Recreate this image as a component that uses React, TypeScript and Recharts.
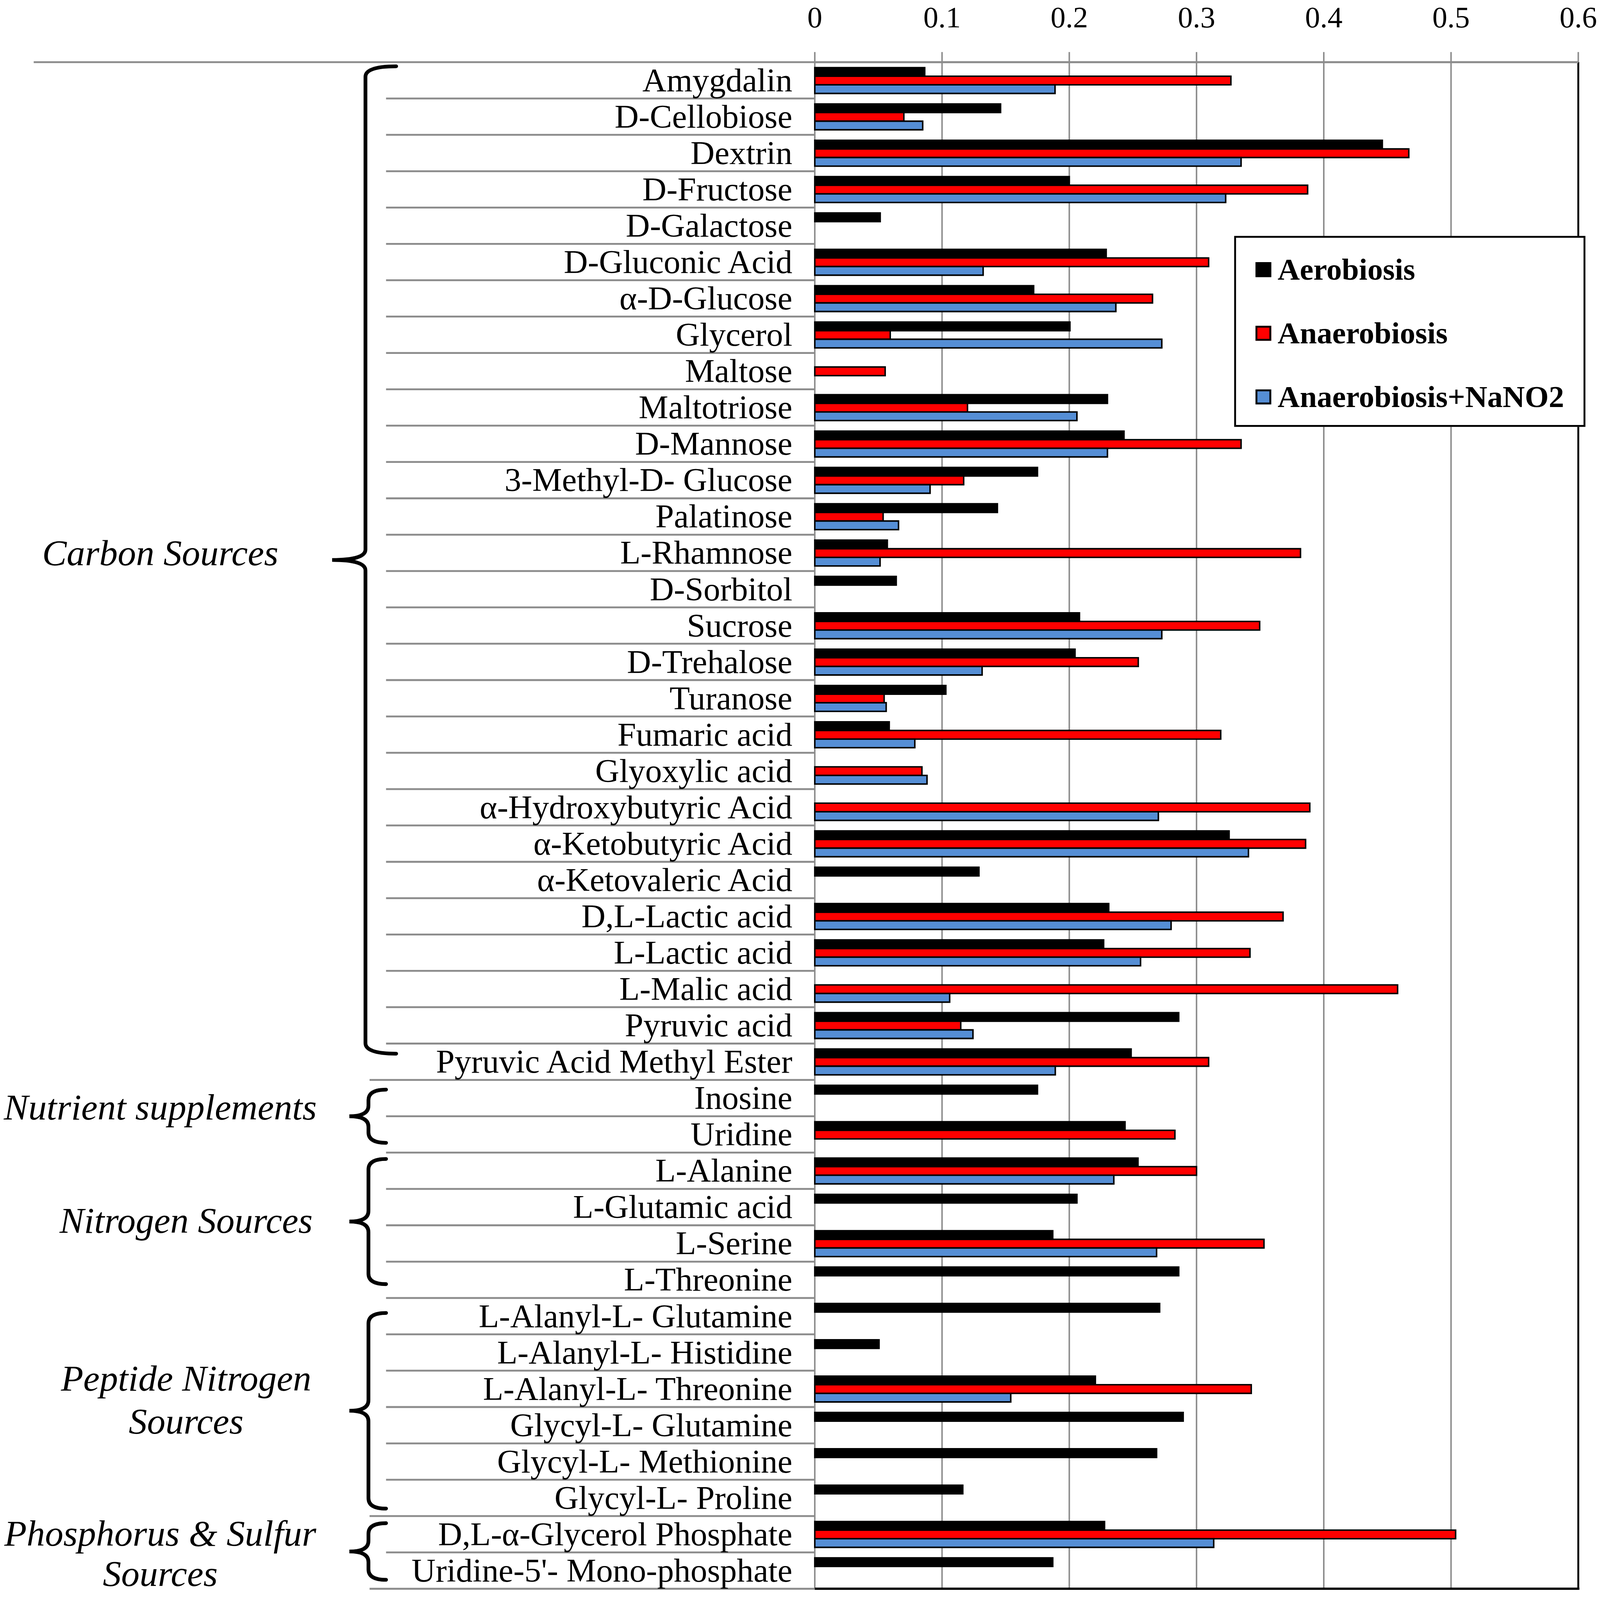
import React from 'react';
import { BarChart, Bar, XAxis, YAxis, CartesianGrid, Legend, ReferenceLine } from 'recharts';

const categories = [
  'Amygdalin',
  'D-Cellobiose',
  'Dextrin',
  'D-Fructose',
  'D-Galactose',
  'D-Gluconic Acid',
  'α-D-Glucose',
  'Glycerol',
  'Maltose',
  'Maltotriose',
  'D-Mannose',
  '3-Methyl-D- Glucose',
  'Palatinose',
  'L-Rhamnose',
  'D-Sorbitol',
  'Sucrose',
  'D-Trehalose',
  'Turanose',
  'Fumaric acid',
  'Glyoxylic acid',
  'α-Hydroxybutyric Acid',
  'α-Ketobutyric Acid',
  'α-Ketovaleric Acid',
  'D,L-Lactic acid',
  'L-Lactic acid',
  'L-Malic acid',
  'Pyruvic acid',
  'Pyruvic Acid Methyl Ester',
  'Inosine',
  'Uridine',
  'L-Alanine',
  'L-Glutamic acid',
  'L-Serine',
  'L-Threonine',
  'L-Alanyl-L- Glutamine',
  'L-Alanyl-L- Histidine',
  'L-Alanyl-L- Threonine',
  'Glycyl-L- Glutamine',
  'Glycyl-L- Methionine',
  'Glycyl-L- Proline',
  'D,L-α-Glycerol Phosphate',
  "Uridine-5'- Mono-phosphate",
];

const aerobiosis = [
  0.0864, 0.146, 0.446, 0.2, 0.0514, 0.229, 0.172, 0.2005, null, 0.23,
  0.243, 0.175, 0.1435, 0.057, 0.064, 0.208, 0.2045, 0.103, 0.0585, null,
  null, 0.3256, 0.129, 0.231, 0.227, null, 0.286, 0.2486, 0.175, 0.2438,
  0.254, 0.206, 0.187, 0.286, 0.271, 0.0505, 0.2205, 0.2895, 0.2686, 0.1163,
  0.2277, 0.187,
];

const anaerobiosis = [
  0.327, 0.07, 0.4668, 0.3873, null, 0.3095, 0.2654, 0.0593, 0.0553, 0.12,
  0.335, 0.117, 0.0537, 0.3817, null, 0.3496, 0.2542, 0.0545, 0.319, 0.0842,
  0.389, 0.3857, null, 0.368, 0.342, 0.458, 0.1147, 0.3095, null, 0.283,
  0.3, null, 0.353, null, null, null, 0.343, null, null, null,
  0.5036, null,
];

const anaerobiosisNaNO2 = [
  0.1888, 0.0848, 0.335, 0.3229, null, 0.1323, 0.2366, 0.2727, null, 0.206,
  0.23, 0.0906, 0.0658, 0.0513, null, 0.2727, 0.1315, 0.0561, 0.0786, 0.0882,
  0.27, 0.3408, null, 0.28, 0.256, 0.106, 0.1243, 0.189, null, null,
  0.235, null, 0.2686, null, null, null, 0.154, null, null, null,
  0.3135, null,
];

const seriesNames = ['Aerobiosis', 'Anaerobiosis', 'Anaerobiosis+NaNO2'];
const xTicks = [0, 0.1, 0.2, 0.3, 0.4, 0.5, 0.6];

const groupLabels = [
  ['Carbon Sources'],
  ['Nutrient supplements'],
  ['Nitrogen Sources'],
  ['Peptide Nitrogen', 'Sources'],
  ['Phosphorus & Sulfur', 'Sources'],
];
const groupSizes = [28, 2, 4, 6, 2];

const data = categories.map((name, i) => ({
  name,
  aero: aerobiosis[i],
  anaero: anaerobiosis[i],
  nitrite: anaerobiosisNaNO2[i],
}));

// layout in reference pixels; the whole chart is scaled to the viewport
const W = 4273;
const H = 4273;
const VIEW = 4096;
const TOP = 166;
const BOTTOM = 4243;
const AXIS_X = 2176;
const PLOT_RIGHT = 4215;
const ROW_H = (BOTTOM - TOP) / categories.length;
const SERIF = '"Liberation Serif", "Times New Roman", serif';
const GRID = '#8c8c8c';

// per-group brace geometry
const braceX = [976, 984, 984, 984, 984];
const braceTipX = [887, 933, 933, 933, 933];
const braceHookX = [1058, 1031, 1031, 1031, 1031];
const braceInsetTop = [11, 26, 17, 40, 19];
const braceInsetBottom = [70, 26, 37, 20, 24];
const groupLabelX = [428, 428, 497, 497, 428];
const groupLabelShift = [-18, -24, -2, -29, 6];
const groupLineGap = [115, 115, 115, 115, 108];
const longSeparators = [27, 39, 41];

const groupStarts = groupSizes.map((_, g) => groupSizes.slice(0, g).reduce((a, b) => a + b, 0));

function bracePath(x: number, tipX: number, hookX: number, top: number, bottom: number) {
  const mid = (top + bottom) / 2;
  const r = 28;
  return [
    `M ${hookX} ${top}`,
    `Q ${x} ${top} ${x} ${top + r}`,
    `L ${x} ${mid - r}`,
    `Q ${x} ${mid} ${tipX} ${mid}`,
    `Q ${x} ${mid} ${x} ${mid + r}`,
    `L ${x} ${bottom - r}`,
    `Q ${x} ${bottom} ${hookX} ${bottom}`,
  ].join(' ');
}

function CategoryTick(props: any) {
  const { y, payload } = props;
  const i: number = props.index ?? payload.index;
  const rowTop = y - ROW_H / 2;
  const rowBottom = y + ROW_H / 2;
  const g = groupStarts.indexOf(i);
  const sepStart = longSeparators.includes(i) ? 987 : 1031;
  const last = i === categories.length - 1;

  let brace = null;
  if (g >= 0) {
    const top = rowTop + braceInsetTop[g];
    const bottom = rowTop + groupSizes[g] * ROW_H - braceInsetBottom[g];
    const mid = (top + bottom) / 2;
    const lines = groupLabels[g];
    brace = (
      <g>
        <path
          d={bracePath(braceX[g], braceTipX[g], braceHookX[g], top, bottom)}
          fill="none"
          stroke="#000"
          strokeWidth={10}
          strokeLinecap="round"
        />
        {lines.map((t, k) => (
          <text
            key={k}
            x={groupLabelX[g]}
            y={mid + groupLabelShift[g] + (k - (lines.length - 1) / 2) * groupLineGap[g]}
            dy="0.33em"
            textAnchor="middle"
            fontFamily={SERIF}
            fontStyle="italic"
            fontSize={98}
            fill="#000"
          >
            {t}
          </text>
        ))}
      </g>
    );
  }

  return (
    <g>
      {i === 0 && <line x1={90} x2={PLOT_RIGHT} y1={rowTop} y2={rowTop} stroke={GRID} strokeWidth={5} />}
      <line x1={sepStart} x2={AXIS_X} y1={rowBottom} y2={rowBottom} stroke={GRID} strokeWidth={5} />
      {last && <line x1={AXIS_X} x2={PLOT_RIGHT + 3} y1={rowBottom} y2={rowBottom} stroke="#000" strokeWidth={6} />}
      <text
        x={AXIS_X - 60}
        y={y}
        dy="0.33em"
        textAnchor="end"
        fontFamily={SERIF}
        fontSize={89}
        fill="#000"
      >
        {payload.value}
      </text>
      {brace}
    </g>
  );
}

function LegendBox({ payload }: any) {
  return (
    <div
      style={{
        boxSizing: 'border-box',
        width: 938,
        height: 510,
        border: '5px solid #000',
        background: '#fff',
        paddingLeft: 52,
      }}
    >
      {(payload || []).map((entry: any, i: number) => (
        <div key={i} style={{ height: 170, display: 'flex', alignItems: 'center' }}>
          <span
            style={{
              display: 'inline-block',
              boxSizing: 'border-box',
              width: 42,
              height: 40,
              background: entry.color,
              border: '5px solid #000',
              marginRight: 17,
            }}
          />
          <span style={{ fontFamily: SERIF, fontWeight: 'bold', fontSize: 82, color: '#000', lineHeight: 1 }}>
            {entry.value}
          </span>
        </div>
      ))}
    </div>
  );
}

export default function App() {
  return (
    <div
      style={{
        position: 'absolute',
        left: 0,
        top: 0,
        width: W,
        height: H,
        background: '#fff',
        transform: `scale(${VIEW / W})`,
        transformOrigin: '0 0',
      }}
    >
      <BarChart
        width={W}
        height={H}
        data={data}
        layout="vertical"
        margin={{ top: 0, right: W - PLOT_RIGHT, bottom: H - BOTTOM, left: 0 }}
        barCategoryGap="15%"
        barGap={0}
      >
        <CartesianGrid horizontal={false} stroke={GRID} strokeWidth={4} />
        <XAxis
          type="number"
          orientation="top"
          domain={[0, 0.6]}
          ticks={xTicks}
          height={TOP}
          tickSize={27}
          tickMargin={66}
          tickFormatter={(v: number) => String(v)}
          axisLine={{ stroke: GRID, strokeWidth: 5 }}
          tickLine={{ stroke: GRID, strokeWidth: 4 }}
          tick={{ fontFamily: SERIF, fontSize: 80, fill: '#000' }}
        />
        <YAxis
          type="category"
          dataKey="name"
          width={AXIS_X}
          interval={0}
          axisLine={false}
          tickLine={false}
          tick={<CategoryTick />}
        />
        <ReferenceLine x={0.6} stroke="#000" strokeWidth={5} />
        <Legend
          layout="vertical"
          align="center"
          verticalAlign="middle"
          content={<LegendBox />}
          wrapperStyle={{ left: 3296, top: 630, width: 938, height: 510 }}
        />
        <Bar dataKey="aero" name={seriesNames[0]} fill="#000000" stroke="#000" strokeWidth={4} isAnimationActive={false} />
        <Bar dataKey="anaero" name={seriesNames[1]} fill="#ff0000" stroke="#000" strokeWidth={4} isAnimationActive={false} />
        <Bar dataKey="nitrite" name={seriesNames[2]} fill="#558ed5" stroke="#000" strokeWidth={4} isAnimationActive={false} />
      </BarChart>
    </div>
  );
}
